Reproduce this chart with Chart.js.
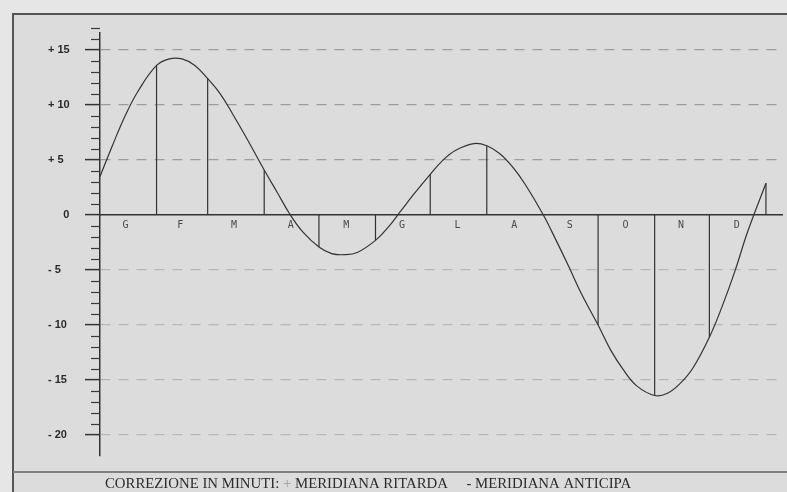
<!DOCTYPE html>
<html>
<head>
<meta charset="utf-8">
<script src="https://cdn.jsdelivr.net/npm/chart.js@4/dist/chart.umd.min.js"></script>
<style>
  html, body { margin: 0; padding: 0; background: #e6e6e6; }
  canvas { display: block; }
</style>
</head>
<body>
<canvas id="c" width="787" height="492"></canvas>
<script>
// Day of year (0 = 1 January) and correction in minutes
const days = [0, 7, 14, 21, 31, 38, 45, 52, 59, 66, 73, 80, 90, 97, 104, 111, 120, 127, 134, 141, 151, 158, 165, 172, 181, 188, 195, 205, 212, 219, 226, 233, 243, 250, 257, 264, 273, 280, 287, 294, 304, 311, 318, 325, 334, 341, 348, 355, 365];
const minutes = [3.5, 6.4, 9.1, 11.3, 13.6, 14.2, 14.2, 13.6, 12.4, 11.0, 9.1, 7.1, 4.1, 2.1, 0.1, -1.5, -2.9, -3.5, -3.6, -3.4, -2.3, -1.1, 0.4, 1.9, 3.7, 5.0, 5.9, 6.5, 6.3, 5.6, 4.4, 2.8, 0.0, -2.3, -4.7, -7.2, -10.0, -12.3, -14.1, -15.5, -16.4, -16.2, -15.3, -13.9, -11.1, -8.3, -5.1, -1.5, 2.9];

// Month boundaries (drop lines) and their values
const monthStartDays = [31, 59, 90, 120, 151, 181, 212, 243, 273, 304, 334, 365];
const monthStartValues = [13.6, 12.4, 4.1, -2.9, -2.3, 3.7, 6.3, 0.0, -10.0, -16.4, -11.1, 2.9];

// Month labels (Italian initials) placed at mid-month
const monthLabels = ['G', 'F', 'M', 'A', 'M', 'G', 'L', 'A', 'S', 'O', 'N', 'D'];
const monthMidDays = [14, 44, 73.5, 104.5, 135, 165.5, 196, 227, 257.5, 288, 318.5, 349];

// Y axis ticks
const yTicks = [15, 10, 5, 0, -5, -10, -15, -20];
const yTickLabels = ['+ 15', '+ 10', '+ 5', '\u2007\u2007 0', '- 5', '- 10', '- 15', '- 20'];
const yMinorTicks = [17, 16, 14, 13, 12, 11, 9, 8, 7, 6, 4, 3, 2, 1, -1, -2, -3, -4, -6, -7, -8, -9, -11, -12, -13, -14, -16, -17, -18, -19];

const footerParts = [
  { text: 'CORREZIONE IN MINUTI: ', color: '#2b2b2b' },
  { text: '+ ', color: '#9a9a9a' },
  { text: 'MERIDIANA RITARDA     - MERIDIANA ANTICIPA', color: '#2b2b2b' }
];

const curveData = days.map((d, i) => ({ x: d, y: minutes[i] }));
const dropData = [];
monthStartDays.forEach((d, i) => {
  dropData.push({ x: d, y: 0 }, { x: d, y: monthStartValues[i] }, { x: d, y: null });
});

const framePlugin = {
  id: 'frame',
  beforeDraw(chart) {
    const ctx = chart.ctx;
    ctx.save();
    ctx.fillStyle = '#e6e6e6';
    ctx.fillRect(0, 0, chart.width, chart.height);
    ctx.fillStyle = '#dcdcdc';
    ctx.fillRect(13, 14, chart.width - 13, chart.height - 14);
    ctx.strokeStyle = '#555';
    ctx.lineWidth = 2;
    ctx.beginPath();
    ctx.moveTo(13, chart.height);
    ctx.lineTo(13, 14);
    ctx.lineTo(chart.width, 14);
    ctx.stroke();
    // footer separator
    ctx.strokeStyle = '#808080';
    ctx.beginPath();
    ctx.moveTo(13, 472);
    ctx.lineTo(chart.width, 472);
    ctx.stroke();
    // footer text
    ctx.font = '14.8px "Liberation Serif", "Times New Roman", serif';
    ctx.textBaseline = 'alphabetic';
    let x = 105;
    footerParts.forEach(p => {
      ctx.fillStyle = p.color;
      ctx.fillText(p.text, x, 488);
      x += ctx.measureText(p.text).width;
    });
    ctx.restore();
  },
  afterDraw(chart) {
    const ctx = chart.ctx;
    const y = chart.scales.y;
    const left = chart.chartArea.left;
    ctx.save();
    ctx.strokeStyle = '#3a3a3a';
    ctx.lineWidth = 1.2;
    yMinorTicks.forEach(v => {
      const py = Math.round(y.getPixelForValue(v)) + 0.5;
      ctx.beginPath();
      ctx.moveTo(left - 9, py);
      ctx.lineTo(left, py);
      ctx.stroke();
    });
    ctx.restore();
  }
};

new Chart(document.getElementById('c'), {
  type: 'line',
  data: {
    datasets: [
      {
        data: dropData,
        borderColor: '#333',
        borderWidth: 1.2,
        pointRadius: 0,
        tension: 0,
        spanGaps: false
      },
      {
        data: curveData,
        borderColor: '#333',
        borderWidth: 1.2,
        pointRadius: 0,
        tension: 0.4,
        fill: false
      }
    ]
  },
  options: {
    responsive: false,
    animation: false,
    devicePixelRatio: 1,
    layout: { padding: { left: 48, top: 33, right: 5, bottom: 36 } },
    plugins: { legend: { display: false }, tooltip: { enabled: false } },
    scales: {
      x: {
        type: 'linear',
        min: 0,
        max: 373.8,
        position: { y: 0 },
        afterBuildTicks(scale) { scale.ticks = monthMidDays.map(v => ({ value: v })); },
        ticks: {
          autoSkip: false,
          maxRotation: 0,
          padding: 4,
          color: '#4a4a4a',
          font: { family: '"DejaVu Sans Mono", monospace', size: 10 },
          callback(value, index) { return monthLabels[index]; }
        },
        grid: { display: false, drawTicks: false },
        border: { display: true, color: '#333', width: 1.5 }
      },
      y: {
        type: 'linear',
        min: -21.9,
        max: 16.55,
        afterFit(scale) { scale.width = 52; },
        afterBuildTicks(scale) { scale.ticks = yTicks.map(v => ({ value: v })); },
        ticks: {
          crossAlign: 'far',
          color: '#2a2a2a',
          font: { family: '"Liberation Sans", Arial, sans-serif', size: 11, weight: 'bold' },
          callback(value, index) { return yTickLabels[index]; }
        },
        grid: {
          color(ctx) {
            const v = ctx.tick ? ctx.tick.value : 1;
            if (v === 0) return 'rgba(0,0,0,0)';
            return v > 0 ? '#9c9c9c' : '#b6b6b6';
          },
          lineWidth: 1.2,
          tickColor: '#333',
          tickLength: 15,
          tickWidth: 1.5
        },
        border: { display: true, color: '#333', width: 1.5, dash: [10, 8] }
      }
    }
  },
  plugins: [framePlugin]
});
</script>
</body>
</html>
